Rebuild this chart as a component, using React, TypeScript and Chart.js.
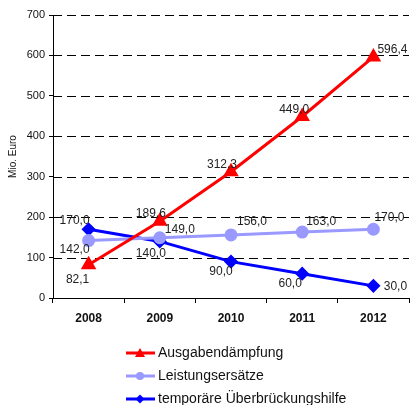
import React, { useEffect, useRef } from "react";
import { Chart, registerables } from "chart.js";

Chart.register(...registerables);

const years = ["2008", "2009", "2010", "2011", "2012"];
const ausgaben = [82.1, 189.6, 312.3, 449.0, 596.4];
const leistung = [142.0, 149.0, 156.0, 163.0, 170.0];
const temporaer = [170.0, 140.0, 90.0, 60.0, 30.0];
const seriesNames = ["Ausgabendämpfung", "Leistungsersätze", "temporäre Überbrückungshilfe"];
const yTicks = [0, 100, 200, 300, 400, 500, 600, 700];

// label offsets (dx, dy) relative to each point, per series
const labelOffsets = [
  [[-11, 15], [-9, -8], [-9, -7], [-8, -7], [19, -7]],
  [[-14, 9], [20, -8], [21, -13], [19, -10], [16, -12]],
  [[-14, -9], [-9, 12], [-10, 10], [-12, 10], [22, 1]],
];

const FONT = "'Liberation Sans', Arial, sans-serif";

const fmt = (v: number) => v.toFixed(1).replace(".", ",");

const gridPlugin = {
  id: "dashedGrid",
  beforeDatasetsDraw(chart: any) {
    const { ctx, chartArea } = chart;
    const y = chart.scales.y;
    ctx.save();
    ctx.strokeStyle = "#000";
    ctx.lineWidth = 1;
    ctx.setLineDash([9, 5]);
    yTicks.forEach((v) => {
      if (v === 0) return;
      const py = Math.round(y.getPixelForValue(v)) + 0.5;
      ctx.beginPath();
      ctx.moveTo(chartArea.left, py);
      ctx.lineTo(chartArea.right, py);
      ctx.stroke();
    });
    ctx.restore();
  },
};

const labelsPlugin = {
  id: "valueLabels",
  afterDatasetsDraw(chart: any) {
    const ctx = chart.ctx;
    ctx.save();
    ctx.font = `12px ${FONT}`;
    ctx.fillStyle = "#222";
    ctx.textAlign = "center";
    ctx.textBaseline = "middle";
    chart.data.datasets.forEach((ds: any, di: number) => {
      const meta = chart.getDatasetMeta(di);
      meta.data.forEach((pt: any, i: number) => {
        const [dx, dy] = labelOffsets[di][i];
        ctx.fillText(fmt(ds.data[i]), pt.x + dx, pt.y + dy);
      });
    });
    ctx.restore();
  },
};

const legendPlugin = {
  id: "customLegend",
  afterDraw(chart: any) {
    const ctx = chart.ctx;
    ctx.save();
    const ys = [353, 376, 399];
    chart.data.datasets.forEach((ds: any, i: number) => {
      const y = ys[i];
      ctx.strokeStyle = ds.borderColor;
      ctx.lineWidth = 3;
      ctx.beginPath();
      ctx.moveTo(126, y);
      ctx.lineTo(155, y);
      ctx.stroke();
      ctx.fillStyle = ds.borderColor;
      const cx = 140;
      ctx.beginPath();
      if (ds.pointStyle === "triangle") {
        ctx.moveTo(cx, y - 5);
        ctx.lineTo(cx + 5, y + 4);
        ctx.lineTo(cx - 5, y + 4);
      } else if (ds.pointStyle === "circle") {
        ctx.arc(cx, y, 4, 0, Math.PI * 2);
      } else {
        ctx.moveTo(cx, y - 4.5);
        ctx.lineTo(cx + 4.5, y);
        ctx.lineTo(cx, y + 4.5);
        ctx.lineTo(cx - 4.5, y);
      }
      ctx.closePath();
      ctx.fill();
      ctx.fillStyle = "#111";
      ctx.font = `14px ${FONT}`;
      ctx.textAlign = "left";
      ctx.textBaseline = "middle";
      ctx.fillText(ds.label, 158, y);
    });
    ctx.restore();
  },
};

const axisPlugin = {
  id: "solidYAxis",
  afterDraw(chart: any) {
    const { ctx, chartArea } = chart;
    ctx.save();
    ctx.strokeStyle = "#000";
    ctx.lineWidth = 1;
    ctx.beginPath();
    ctx.moveTo(chartArea.left + 0.5, chartArea.top);
    ctx.lineTo(chartArea.left + 0.5, chartArea.bottom);
    ctx.stroke();
    ctx.restore();
  },
};

export default function App() {
  const ref = useRef<HTMLCanvasElement>(null);
  useEffect(() => {
    if (!ref.current) return;
    const chart = new Chart(ref.current, {
      type: "line",
      data: {
        labels: years,
        datasets: [
          {
            label: seriesNames[0],
            data: ausgaben,
            borderColor: "#FF0000",
            backgroundColor: "#FF0000",
            borderWidth: 3,
            pointStyle: "triangle",
            pointRadius: 6,
          },
          {
            label: seriesNames[1],
            data: leistung,
            borderColor: "#9999FF",
            backgroundColor: "#9999FF",
            borderWidth: 3,
            pointStyle: "circle",
            pointRadius: 5,
          },
          {
            label: seriesNames[2],
            data: temporaer,
            borderColor: "#0000FF",
            backgroundColor: "#0000FF",
            borderWidth: 3,
            pointStyle: "rectRot",
            pointRadius: 5,
          },
        ],
      },
      options: {
        animation: false,
        responsive: false,
        devicePixelRatio: 1,
        layout: { padding: { top: 15, right: 0, left: 0, bottom: 0 } },
        plugins: { legend: { display: false }, tooltip: { enabled: false }, title: { display: false } },
        scales: {
          x: {
            offset: true,
            grid: {
              display: true,
              offset: true,
              drawOnChartArea: false,
              drawTicks: true,
              tickLength: 5,
              color: "#000",
            },
            border: { display: true, color: "#000", width: 1 },
            ticks: {
              color: "#111",
              font: { family: FONT, size: 12, weight: "bold" },
              padding: 8,
            },
            afterFit(scale: any) {
              scale.height = 107;
            },
          },
          y: {
            min: 0,
            max: 700,
            afterBuildTicks(scale: any) {
              scale.ticks = yTicks.map((v) => ({ value: v }));
            },
            grid: {
              color: "#000",
              lineWidth: 1,
              tickLength: 4,
              drawTicks: true,
              drawOnChartArea: false,
            },
            border: { display: true, color: "#000", width: 1 },
            ticks: {
              color: "#111",
              font: { family: FONT, size: 11 },
              padding: 4,
            },
            title: {
              display: true,
              text: "Mio. Euro",
              color: "#111",
              font: { family: FONT, size: 10 },
              padding: { top: 7, bottom: 4 },
            },
            afterFit(scale: any) {
              scale.width = 53;
            },
          },
        },
      },
      plugins: [gridPlugin, labelsPlugin, legendPlugin, axisPlugin],
    } as any);
    return () => chart.destroy();
  }, []);
  return (
    <div style={{ position: "absolute", left: 0, top: 0, width: 418, height: 405 }}>
      <canvas ref={ref} width={418} height={405} style={{ width: 418, height: 405 }} />
    </div>
  );
}
